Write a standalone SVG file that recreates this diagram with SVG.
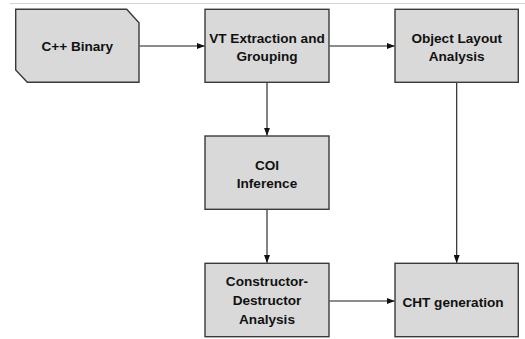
<svg xmlns="http://www.w3.org/2000/svg" width="525" height="339" viewBox="0 0 525 339">
<style>
.box{fill:#d9d9d9;stroke:#3a3a3a;stroke-width:1.4}
.lbl{font-family:"Liberation Sans",Arial,sans-serif;font-weight:bold;font-size:13.6px;fill:#111;text-anchor:middle}
.conn{stroke:#1a1a1a;stroke-width:1.1;fill:none;marker-end:url(#ah)}
</style>
<defs>
<marker id="ah" markerUnits="userSpaceOnUse" markerWidth="8" markerHeight="6" refX="7.5" refY="3" orient="auto">
<path d="M0,0 L8,3 L0,6 z" fill="#111"/>
</marker>
</defs>
<rect width="525" height="339" fill="#fff"/>
<line x1="10" y1="3.5" x2="525" y2="3.5" stroke="#d4d4d4" stroke-width="1"/>
<g id="n-binary">
<path class="box" d="M15.7,9.3 H126.7 L139,22.7 V82.3 H27.3 L15.7,70 Z"/>
<text class="lbl" x="77.3" y="51">C++ Binary</text>
</g>
<g id="n-vt">
<rect class="box" x="205" y="9.3" width="124" height="73"/>
<text class="lbl" x="267" y="42.7">VT Extraction and</text>
<text class="lbl" x="267" y="60.7">Grouping</text>
</g>
<g id="n-layout">
<rect class="box" x="395" y="9.3" width="123.3" height="73"/>
<text class="lbl" x="456.7" y="42.5">Object Layout</text>
<text class="lbl" x="456.7" y="60.7">Analysis</text>
</g>
<g id="n-coi">
<rect class="box" x="205" y="136" width="124" height="73.3"/>
<text class="lbl" x="267" y="170">COI</text>
<text class="lbl" x="267" y="188.3">Inference</text>
</g>
<g id="n-ctor">
<rect class="box" x="205" y="263.3" width="124" height="73.4"/>
<text class="lbl" x="267" y="286">Constructor-</text>
<text class="lbl" x="267" y="305">Destructor</text>
<text class="lbl" x="267" y="324.3">Analysis</text>
</g>
<g id="n-cht">
<rect class="box" x="395" y="263.3" width="123.3" height="73.4"/>
<text class="lbl" x="453" y="306.5">CHT generation</text>
</g>
<g id="connectors">
<line class="conn" x1="139.7" y1="46" x2="204.3" y2="46"/>
<line class="conn" x1="329.7" y1="46" x2="394.3" y2="46"/>
<line class="conn" x1="267" y1="83" x2="267" y2="135.3"/>
<line class="conn" x1="267" y1="210" x2="267" y2="262.6"/>
<line class="conn" x1="456.7" y1="83" x2="456.7" y2="262.6"/>
<line class="conn" x1="329.7" y1="301" x2="394.3" y2="301"/>
</g>
</svg>
